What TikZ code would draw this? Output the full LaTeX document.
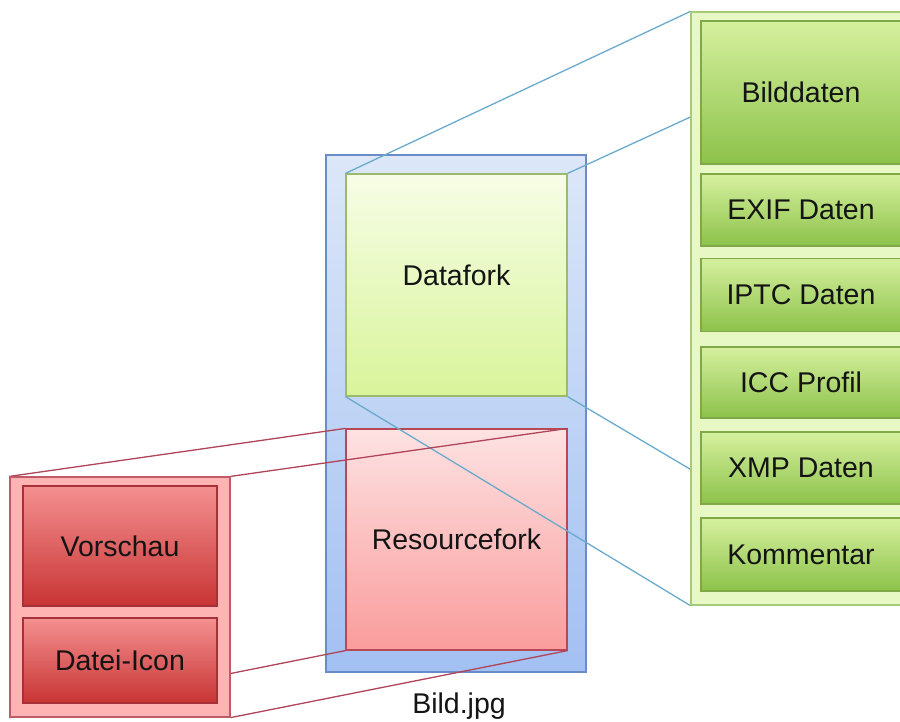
\documentclass[tikz,border=0pt]{standalone}
\usepackage{fontspec}
\setmainfont{Liberation Sans}
\pgfdeclarelayer{fg}
\pgfsetlayers{main,fg}
\definecolor{txt}{HTML}{141414}
\definecolor{blueline}{HTML}{6AAACC}
\definecolor{redline}{HTML}{B04458}
\tikzset{
  lbl/.style={font=\fontsize{28.5}{33}\selectfont, text=txt},
  rectbox/.style={rectangle, inner sep=0pt, line width=1.2pt},
  bluebox/.style={rectbox, draw=HTMLblueborder, top color=bluetop, bottom color=bluebot},
  greenfork/.style={rectbox, lbl, draw=gforkborder, top color=gforktop, bottom color=gforkbot},
  redfork/.style={rectbox, lbl, draw=rforkborder, top color=rforktop, bottom color=rforkbot},
  gcont/.style={rectbox, draw=gcontborder, fill=gcontfill},
  gitem/.style={rectbox, lbl, draw=gitemborder, top color=gitemtop, bottom color=gitembot, minimum width=200pt},
  rcont/.style={rectbox, draw=rcontborder, fill=rcontfill},
  ritem/.style={rectbox, lbl, draw=ritemborder, top color=ritemtop, bottom color=ritembot, minimum width=194pt},
  bline/.style={draw=blueline, line width=1.3pt},
  rline/.style={draw=redline, line width=1.3pt},
}
\definecolor{HTMLblueborder}{HTML}{6A8CC8}
\definecolor{bluetop}{HTML}{DCE7F8}
\definecolor{bluebot}{HTML}{A2C0F2}
\definecolor{gforkborder}{HTML}{9CBA6C}
\definecolor{gforktop}{HTML}{F7FDE6}
\definecolor{gforkbot}{HTML}{D8F49A}
\definecolor{rforkborder}{HTML}{B84858}
\definecolor{rforktop}{HTML}{FDE2E2}
\definecolor{rforkbot}{HTML}{FA9C9C}
\definecolor{gcontborder}{HTML}{A6CA78}
\definecolor{gcontfill}{HTML}{E8F8C4}
\definecolor{gitemborder}{HTML}{80A848}
\definecolor{gitemtop}{HTML}{D6F09E}
\definecolor{gitembot}{HTML}{8CC24A}
\definecolor{rcontborder}{HTML}{C05A66}
\definecolor{rcontfill}{HTML}{FFB4B4}
\definecolor{ritemborder}{HTML}{A83038}
\definecolor{ritemtop}{HTML}{F49090}
\definecolor{ritembot}{HTML}{C83434}
\begin{document}
\begin{tikzpicture}[x=1pt,y=-1pt]
\useasboundingbox (0,0) rectangle (900,721);
% main file box and forks
\node[bluebox, minimum width=260pt, minimum height=517pt] (file) at (456,413.5) {};
\node[greenfork, minimum width=221pt, minimum height=222pt, text depth=20pt] (df) at (456.5,285) {Datafork};
\node[redfork, minimum width=221pt, minimum height=221pt] (rf) at (456.5,539.5) {Resourcefork};
\node[lbl] (name) at (459,706) {Bild.jpg};
% containers on foreground layer
\begin{pgfonlayer}{fg}
\node[gcont, minimum width=229pt, minimum height=593pt] (gc) at (805.5,308.5) {};
\node[gitem, minimum height=143pt] (g1) at (801,92.5) {Bilddaten};
\node[gitem, minimum height=72pt] (g2) at (801,210) {EXIF Daten};
\node[gitem, minimum height=73pt] (g3) at (801,295) {IPTC Daten};
\node[gitem, minimum height=71pt] (g4) at (801,382.5) {ICC Profil};
\node[gitem, minimum height=72pt] (g5) at (801,468) {XMP Daten};
\node[gitem, minimum height=73pt] (g6) at (801,554.5) {Kommentar};
\node[rcont, minimum width=220pt, minimum height=240pt] (rc) at (120,597) {};
\node[ritem, minimum height=120pt] (r1) at (120,546) {Vorschau};
\node[ritem, minimum height=85pt] (r2) at (120,660.5) {Datei-Icon};
\end{pgfonlayer}
% projection lines
\draw[bline] (df.north west) -- (gc.north west);
\draw[bline] (df.north east) -- (gc.north east);
\draw[bline] (df.south east) -- (gc.south east);
\draw[bline] (df.south west) -- (gc.south west);
\draw[rline] (rc.north west) -- (rf.north west);
\draw[rline] (rc.north east) -- (rf.north east);
\draw[rline] (rc.south west) -- (rf.south west);
\draw[rline] (rc.south east) -- (rf.south east);
\end{tikzpicture}
\end{document}
